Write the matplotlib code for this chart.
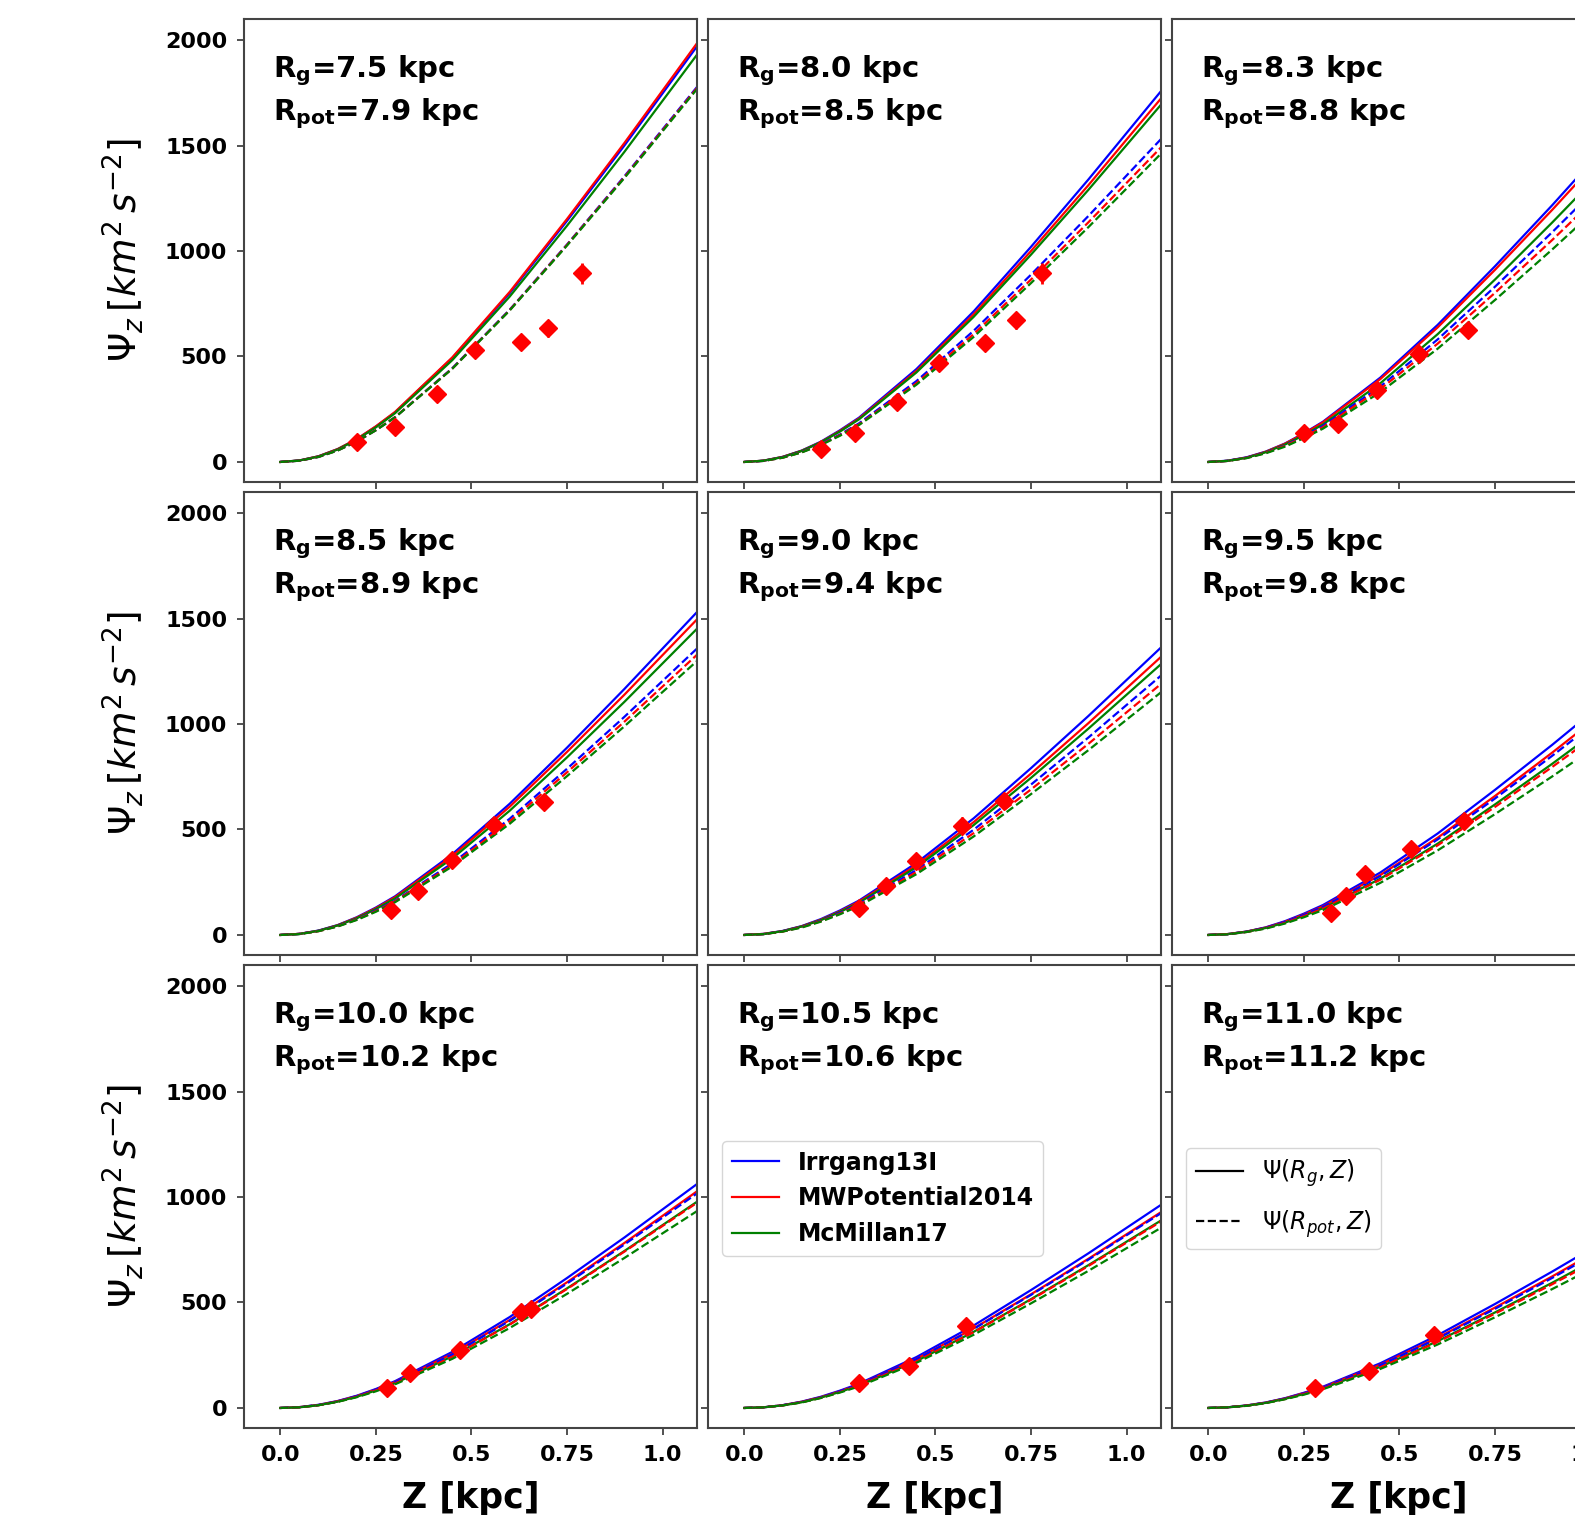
import matplotlib
matplotlib.use("Agg")
import matplotlib.pyplot as plt
from matplotlib.lines import Line2D


W, H = 1575, 1522

rg_values = ["7.5", "8.0", "8.3", "8.5", "9.0", "9.5", "10.0", "10.5", "11.0"]
rpot_values = ["7.9", "8.5", "8.8", "8.9", "9.4", "9.8", "10.2", "10.6", "11.2"]

z_grid = [0.0, 0.05, 0.1, 0.15, 0.2, 0.25, 0.3, 0.45, 0.6, 0.75, 0.9, 1.1]

# Psi_z(R_g, Z), one row per panel
irrgang_rg = [
    [0, 7, 27, 61, 108, 168, 235, 493, 800, 1143, 1500, 1995],
    [0, 6, 24, 54, 96, 150, 210, 440, 714, 1020, 1339, 1780],
    [0, 6, 22, 49, 87, 136, 191, 400, 650, 928, 1218, 1620],
    [0, 5, 21, 47, 84, 130, 183, 383, 622, 888, 1166, 1550],
    [0, 5, 19, 42, 75, 116, 163, 341, 553, 791, 1038, 1380],
    [0, 4, 16, 36, 65, 101, 142, 296, 481, 688, 902, 1200],
    [0, 4, 15, 33, 58, 90, 127, 266, 431, 616, 808, 1075],
    [0, 3, 13, 30, 53, 82, 115, 241, 391, 559, 733, 975],
    [0, 3, 12, 26, 46, 72, 101, 212, 345, 493, 647, 860],
]
mwpot_rg = [
    [0, 7, 27, 61, 109, 169, 237, 496, 806, 1152, 1512, 2010],
    [0, 6, 24, 53, 94, 147, 206, 431, 700, 1000, 1312, 1745],
    [0, 5, 21, 48, 86, 134, 188, 393, 638, 911, 1196, 1590],
    [0, 5, 20, 46, 82, 127, 179, 374, 608, 868, 1139, 1515],
    [0, 5, 18, 41, 72, 112, 158, 330, 535, 765, 1004, 1335],
    [0, 4, 16, 35, 62, 97, 136, 284, 461, 659, 865, 1150],
    [0, 4, 14, 32, 56, 87, 123, 257, 417, 596, 782, 1040],
    [0, 3, 13, 29, 51, 79, 111, 232, 377, 539, 707, 940],
    [0, 3, 11, 25, 45, 70, 98, 205, 333, 476, 624, 830],
]
mcmillan_rg = [
    [0, 7, 26, 59, 106, 164, 231, 483, 784, 1120, 1470, 1955],
    [0, 6, 23, 52, 93, 144, 202, 424, 688, 983, 1290, 1715],
    [0, 5, 20, 46, 82, 127, 178, 373, 606, 865, 1136, 1510],
    [0, 5, 20, 45, 79, 123, 173, 363, 589, 842, 1105, 1470],
    [0, 4, 18, 40, 70, 109, 153, 321, 521, 745, 978, 1300],
    [0, 4, 15, 33, 58, 91, 127, 267, 433, 619, 812, 1080],
    [0, 3, 13, 30, 53, 83, 117, 245, 397, 567, 744, 990],
    [0, 3, 12, 27, 49, 76, 106, 222, 361, 516, 677, 900],
    [0, 3, 11, 24, 43, 66, 93, 195, 317, 453, 594, 790],
]

# Psi_z(R_pot, Z)
irrgang_rpot = [
    [0, 6, 24, 55, 97, 151, 212, 445, 722, 1031, 1354, 1800],
    [0, 5, 21, 47, 84, 130, 183, 383, 622, 888, 1166, 1550],
    [0, 5, 20, 44, 78, 122, 171, 358, 581, 831, 1090, 1450],
    [0, 5, 19, 42, 74, 116, 162, 340, 551, 788, 1034, 1375],
    [0, 4, 17, 38, 67, 105, 147, 308, 499, 713, 936, 1245],
    [0, 4, 15, 34, 61, 95, 133, 279, 453, 647, 850, 1130],
    [0, 4, 14, 31, 56, 87, 122, 254, 413, 590, 775, 1030],
    [0, 3, 13, 28, 50, 79, 110, 231, 375, 536, 703, 935],
    [0, 3, 11, 25, 44, 69, 97, 203, 329, 470, 617, 820],
]
mwpot_rpot = [
    [0, 6, 24, 55, 97, 151, 212, 443, 720, 1029, 1350, 1795],
    [0, 5, 20, 46, 82, 127, 178, 373, 606, 865, 1136, 1510],
    [0, 5, 19, 43, 76, 118, 165, 346, 561, 802, 1053, 1400],
    [0, 5, 18, 41, 73, 113, 159, 332, 539, 771, 1011, 1345],
    [0, 4, 16, 37, 65, 101, 142, 298, 483, 690, 906, 1205],
    [0, 4, 14, 32, 57, 89, 125, 262, 425, 607, 797, 1060],
    [0, 3, 13, 30, 53, 83, 116, 243, 395, 564, 741, 985],
    [0, 3, 12, 27, 48, 75, 106, 221, 359, 513, 673, 895],
    [0, 3, 11, 24, 42, 66, 92, 193, 313, 447, 587, 780],
]
mcmillan_rpot = [
    [0, 6, 24, 54, 97, 150, 211, 442, 718, 1026, 1346, 1790],
    [0, 5, 20, 45, 80, 124, 175, 366, 593, 848, 1113, 1480],
    [0, 5, 18, 41, 72, 113, 158, 331, 537, 768, 1008, 1340],
    [0, 4, 18, 40, 71, 110, 155, 325, 527, 753, 989, 1315],
    [0, 4, 16, 35, 63, 98, 137, 288, 467, 668, 876, 1165],
    [0, 3, 14, 30, 54, 84, 118, 247, 401, 573, 752, 1000],
    [0, 3, 13, 29, 51, 79, 112, 233, 379, 541, 711, 945],
    [0, 3, 12, 26, 47, 73, 102, 214, 347, 496, 650, 865],
    [0, 3, 10, 23, 41, 63, 89, 185, 301, 430, 564, 750],
]

# measured points
obs_z = [
    [0.20, 0.30, 0.41, 0.51, 0.63, 0.70, 0.79],
    [0.20, 0.29, 0.40, 0.51, 0.63, 0.71, 0.78],
    [0.25, 0.34, 0.44, 0.55, 0.68],
    [0.29, 0.36, 0.45, 0.56, 0.69],
    [0.30, 0.37, 0.45, 0.57, 0.68],
    [0.32, 0.36, 0.41, 0.53, 0.67],
    [0.28, 0.34, 0.47, 0.63, 0.655],
    [0.30, 0.43, 0.58],
    [0.28, 0.42, 0.59],
]
obs_psi = [
    [95, 166, 324, 530, 569, 633, 894],
    [63, 135, 285, 467, 562, 672, 894],
    [135, 182, 340, 514, 625],
    [118, 210, 355, 521, 632],
    [129, 232, 351, 517, 635],
    [106, 185, 288, 406, 540],
    [95, 165, 277, 455, 470],
    [118, 199, 389],
    [95, 173, 346],
]
obs_err = [
    [20, 20, 25, 30, 35, 40, 50],
    [20, 20, 25, 30, 35, 40, 50],
    [20, 25, 25, 30, 35],
    [20, 25, 25, 30, 35],
    [20, 25, 30, 40, 35],
    [20, 20, 30, 30, 35],
    [20, 20, 25, 30, 30],
    [20, 20, 35],
    [20, 20, 30],
]

model_names = ["Irrgang13I", "MWPotential2014", "McMillan17"]
model_colors = ["blue", "red", "green"]

col_left = [244, 708, 1172]
row_top = [19, 492, 965]
ax_w, ax_h = 453, 463


def main():
    fig = plt.figure(figsize=(W / 100, H / 100), dpi=100)
    solid_sets = [irrgang_rg, mwpot_rg, mcmillan_rg]
    dashed_sets = [irrgang_rpot, mwpot_rpot, mcmillan_rpot]

    for i in range(9):
        row, col = divmod(i, 3)
        ax = fig.add_axes([col_left[col] / W, 1 - (row_top[row] + ax_h) / H, ax_w / W, ax_h / H])

        for data, color in zip(solid_sets, model_colors):
            ax.plot(z_grid, data[i], color=color, lw=1.6, ls="-")
        for data, color in zip(dashed_sets, model_colors):
            ax.plot(z_grid, data[i], color=color, lw=1.6, ls="--")

        ax.errorbar(obs_z[i], obs_psi[i], yerr=obs_err[i], fmt="D", color="red",
                    ms=9, elinewidth=2, capsize=0, zorder=5)

        ax.text(0.065, 0.925,
                r"R$_{\mathbf{g}}$=" + rg_values[i] + " kpc\n" + r"R$_{\mathbf{pot}}$=" + rpot_values[i] + " kpc",
                transform=ax.transAxes, fontsize=21, fontweight="bold", va="top", ha="left",
                linespacing=1.35)

        ax.set_xlim(-0.095, 1.09)
        ax.set_ylim(-95, 2100)
        ax.set_xticks([0.0, 0.25, 0.5, 0.75, 1.0])
        ax.set_xticklabels(["0.0", "0.25", "0.5", "0.75", "1.0"])
        ax.set_yticks([0, 500, 1000, 1500, 2000])
        ax.tick_params(length=5, width=1.2, pad=7, labelsize=16, colors="#333333", labelcolor="black")
        for lab in ax.get_xticklabels() + ax.get_yticklabels():
            lab.set_fontweight("bold")
        for sp in ax.spines.values():
            sp.set_color("#444444")
            sp.set_linewidth(1.5)

        if col == 0:
            ax.set_ylabel(r"$\Psi_z\,[km^2\,s^{-2}]$", fontsize=27, labelpad=14)
        else:
            ax.tick_params(labelleft=False)
        if row == 2:
            ax.set_xlabel("Z [kpc]", fontsize=25, fontweight="bold", labelpad=12)
        else:
            ax.tick_params(labelbottom=False)

        if i == 7:
            handles = [Line2D([], [], color=c, lw=1.6) for c in model_colors]
            ax.legend(handles, model_names, loc="upper left", bbox_to_anchor=(0.005, 0.645),
                      prop={"weight": "bold", "size": 17}, handlelength=2.0)
        if i == 8:
            handles = [Line2D([], [], color="black", lw=1.6, ls="-"),
                       Line2D([], [], color="black", lw=1.6, ls="--")]
            ax.legend(handles, [r"$\Psi(R_g, Z)$", r"$\Psi(R_{pot}, Z)$"], loc="upper left",
                      bbox_to_anchor=(0.005, 0.63), fontsize=17, handlelength=2.0,
                      labelspacing=0.8)

    fig.savefig("out.png", dpi=100)
    plt.close(fig)


if __name__ == "__main__":
    main()
